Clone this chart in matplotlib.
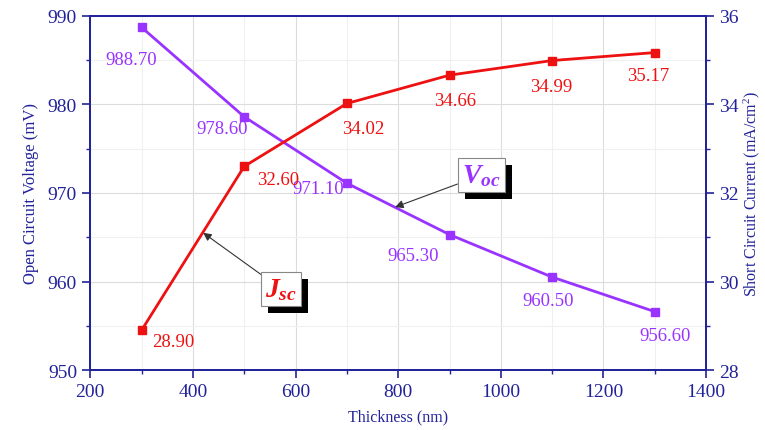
import matplotlib
matplotlib.use("Agg")
import matplotlib.pyplot as plt
import matplotlib.patheffects as pe
from matplotlib.ticker import MultipleLocator

plt.rcParams['font.family'] = ['Liberation Serif', 'DejaVu Serif']
plt.rcParams['mathtext.fontset'] = 'custom'
plt.rcParams['mathtext.rm'] = 'Liberation Serif'
plt.rcParams['mathtext.it'] = 'Liberation Serif:italic:bold'

# data
thickness = [300, 500, 700, 900, 1100, 1300]
voc = [988.70, 978.60, 971.10, 965.30, 960.50, 956.60]
jsc = [28.90, 32.60, 34.02, 34.66, 34.99, 35.17]

# label offsets (pixels) relative to each point
voc_off = [(-10, -32), (-22, -12), (-29, -5), (-36, -21), (-4, -23), (10, -24)]
jsc_off = [(32, -11), (34, -13), (16, -25), (6, -25), (-1, -26), (-7, -23)]

navy = "#22229a"
purple = "#9933ff"
red = "#ee1111"

fig = plt.figure(figsize=(7.65, 4.31), dpi=100)
ax = fig.add_axes([0.118, 0.139, 0.805, 0.822])
ax2 = ax.twinx()

ax.set_xlim(200, 1400)
ax.set_ylim(950, 990)
ax2.set_ylim(28, 36)

ax.xaxis.set_major_locator(MultipleLocator(200))
ax.xaxis.set_minor_locator(MultipleLocator(100))
ax.yaxis.set_major_locator(MultipleLocator(10))
ax.yaxis.set_minor_locator(MultipleLocator(5))
ax2.yaxis.set_major_locator(MultipleLocator(2))
ax2.yaxis.set_minor_locator(MultipleLocator(1))

ax.grid(which='major', color='#dcdcdc', lw=0.8)
ax.grid(which='minor', color='#f0f0f0', lw=0.8)
ax.set_axisbelow(True)

for a in (ax, ax2):
    for s in a.spines.values():
        s.set_color(navy)
        s.set_linewidth(1.3)
    a.tick_params(which='major', direction='out', length=6, width=1.2,
                  color=navy, labelcolor=navy, labelsize=14)
    a.tick_params(which='minor', direction='out', length=3, width=1.0, color=navy)

ax.plot(thickness, voc, color=purple, lw=2, marker='s', ms=6, zorder=3)
ax2.plot(thickness, jsc, color=red, lw=2, marker='s', ms=6, zorder=3)

for x, y, off in zip(thickness, voc, voc_off):
    ax.annotate(f"{y:.2f}", (x, y), xytext=off, textcoords='offset pixels',
                ha='center', va='center', color=purple, fontsize=13.5)
for x, y, off in zip(thickness, jsc, jsc_off):
    ax2.annotate(f"{y:.2f}", (x, y), xytext=off, textcoords='offset pixels',
                 ha='center', va='center', color=red, fontsize=13.5)

ax.set_xlabel("Thickness (nm)", color=navy, fontsize=11.5, labelpad=6)
ax.set_ylabel("Open Circuit Voltage (mV)", color=navy, fontsize=12, labelpad=6)
ax2.set_ylabel("Short Circuit Current (mA/cm$^2$)", color=navy, fontsize=11.5, labelpad=2)

shadow = [pe.SimplePatchShadow(offset=(5, -5), shadow_rgbFace='k', alpha=1), pe.Normal()]

t1 = ax2.annotate("$J_{sc}$", xy=(420, 31.1), xytext=(572, 29.83),
                  ha='center', va='center', color=red, fontsize=20,
                  bbox=dict(boxstyle='square,pad=0.15', fc='white', ec='#888888', lw=0.8),
                  arrowprops=dict(arrowstyle='-|>', color='#333333', lw=0.8,
                                  shrinkA=0, shrinkB=0, mutation_scale=12))
t1.get_bbox_patch().set_path_effects(shadow)

t2 = ax.annotate("$V_{oc}$", xy=(794, 968.4), xytext=(962, 972.0),
                 ha='center', va='center', color=purple, fontsize=20,
                 bbox=dict(boxstyle='square,pad=0.15', fc='white', ec='#888888', lw=0.8),
                 arrowprops=dict(arrowstyle='-|>', color='#333333', lw=0.8,
                                 shrinkA=0, shrinkB=0, mutation_scale=12))
t2.get_bbox_patch().set_path_effects(shadow)
t2.set_zorder(5)

fig.savefig("out.png", dpi=100)
